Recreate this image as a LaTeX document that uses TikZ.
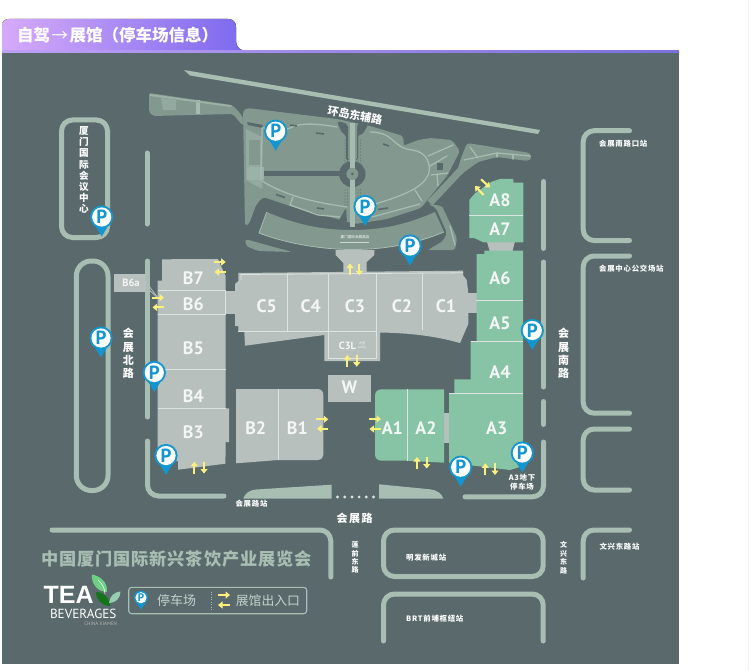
\documentclass[tikz,border=0pt]{standalone}
\usepackage{fontspec}
\usetikzlibrary{arrows.meta}
\setmainfont{Noto Sans CJK SC}
\newfontfamily\lat{PT Sans}
\newfontfamily\logofont{Liberation Sans}
\definecolor{bgc}{HTML}{5A6A6C}
\definecolor{roadc}{HTML}{A8BEB3}
\definecolor{parkc}{HTML}{83998F}
\definecolor{parkl}{HTML}{93AAA0}
\definecolor{pathc}{HTML}{A6BCB1}
\definecolor{grayb}{HTML}{B8C0BE}
\definecolor{greenb}{HTML}{87C4A6}
\definecolor{liner}{HTML}{DDE3E0}
\definecolor{pinb}{HTML}{1296CF}
\definecolor{yarr}{HTML}{FBF07E}
\definecolor{txtw}{HTML}{F4F6F5}
\definecolor{tabl}{HTML}{D6AAFA}
\definecolor{tabr}{HTML}{7A68EE}
\definecolor{lnl}{HTML}{BEA0F5}
\definecolor{lnr}{HTML}{7A70DC}
\tikzset{
  road/.style={draw=roadc,line width=5pt,line cap=round,rounded corners=11pt},
  divider/.style={draw=liner,line width=0.8pt},
  hlabel/.style={text=txtw,font=\lat\bfseries\fontsize{18}{18}\selectfont,inner sep=0pt},
  rlabel/.style={text=white,font=\bfseries\fontsize{11}{13.3}\selectfont,inner sep=0pt,align=center},
  slabel/.style={text=white,font=\bfseries\fontsize{7.4}{9}\selectfont\addfontfeature{LetterSpace=10},inner sep=0pt,align=center},
  yarrow/.style={draw=yarr,line width=2.1pt,-{Triangle[width=7pt,length=4.5pt]}},
  pale/.style={draw=pathc,line width=1.3pt,line cap=round},
  dash mark/.style={draw=bgc,line width=1.6pt},
  pintext/.style={text=pinb,font=\lat\bfseries,inner sep=0pt},
}
\newcommand{\pinmark}[3]{%
  \fill[pinb] (#2-9,#3-15) -- (#2,#3) -- (#2+9,#3-15) -- cycle;
  \fill[pinb] (#2,#3-19.5) circle (11.6);
  \fill[white] (#2,#3-19.5) circle (9.6);
  \node[pintext,font=\lat\bfseries\fontsize{19}{19}\selectfont] (#1) at (#2,#3-19.5) {P};
}
\begin{document}
\begin{tikzpicture}[x=1pt,y=-1pt]
\useasboundingbox (0,0) rectangle (749,671);
\fill[white] (0,0) rectangle (749,671);
\fill[black!6] (747.5,0) rectangle (749,671);
% map background
\fill[bgc] (2,52) rectangle (679,664);
% title tab
\fill[left color=tabl,right color=tabr]
  (2,51.5) -- (2,26) .. controls (2,21) and (5,19) .. (9,19) -- (228,19) .. controls (233,19) and (236,22) .. (236,27)
  -- (236,41) .. controls (236,47) and (240,51) .. (248,51.5) -- cycle;
\fill[left color=lnl,right color=lnr] (2,50.8) rectangle (679,52.2);
\node[text=white,font=\bfseries\fontsize{16.5}{18}\selectfont,inner sep=0pt,anchor=west] (title) at (17,35) {自驾{\mdseries\hspace{1.5pt}→\hspace{1.5pt}}展馆（停车场信息）};

% top road
\fill[roadc] (184,70) -- (540,130) -- (538,134) -- (190,75.5) -- cycle;
% NW strip
\fill[parkc,rounded corners=2pt] (149,93) -- (232,105) -- (240,113) -- (247,125) -- (242,125) -- (233,114) -- (153,116) -- (149,112) -- cycle;
\fill[parkl] (161,98) -- (176,100) -- (176,110) -- (163,110) -- cycle;
\draw[pathc,line width=4pt] (197.5,100) -- (197.5,114);
\fill[pathc!70!parkc] (150,94) -- (232,105.5) -- (231,107) -- (150,96) -- cycle;
% Park main
\fill[parkc,rounded corners=3pt] (243,111) -- (247,108) -- (337,119) -- (370,126) -- (403,136) -- (404,144)-- (403,146) -- (418,140) -- (430,138) -- (452,140) -- (460,151) -- (447,176) -- (421,208) -- (387,219) -- (355,224) -- (337,219) -- (290,206) -- (263,197) -- (256,205) -- (249,224) -- (245,226) -- cycle;
\fill[bgc] (247,122) -- (263,125) -- (262,128) -- (248,125) -- cycle;
% lower-left lawn piece
\fill[parkc,rounded corners=3pt] (245,239) -- (292,252) -- (258,251) -- (246,246) -- cycle;
% right wing
\fill[parkc,rounded corners=2pt] (428,204) -- (442,206) -- (457,238) -- (455,250) -- (428,250) -- (443,241) -- (447,233) -- (436,208) -- cycle;
\draw[pale] (450,226) -- (455,245);
% diagonal strip
\draw[parkc,line width=7pt] (461,170) -- (430,203);
% NE strip
\fill[parkc,rounded corners=3pt] (467,143) -- (530,153) -- (532,158) -- (528,161) -- (497,157) -- (478,162) -- (459,176) -- (457,172) -- (461,158) -- cycle;
\draw[pale] (470,147) -- (478,158);\draw[pale] (464,160) -- (497,153) -- (530,156);\draw[pale] (497,153) -- (497,157);\draw[pale] (513,155) -- (513,159);
% left pale plaza
\fill[parkl] (246,129) -- (262,137) -- (262,189) -- (246,180) -- cycle;
\fill[parkc] (249,140) rectangle (260,165);
\fill[pathc!70!parkc] (247,167) rectangle (264,180);
% lawn paths
\draw[pale] (262,128) .. controls (262,150) and (261,170) .. (261,180);
\draw[pale] (262,128) .. controls (270,128) and (280,132) .. (290,128) .. controls (300,122) and (320,124) .. (337,127);
\draw[pale] (262,181) .. controls (290,198) and (320,203) .. (347,207);
\draw[pale] (293,197) -- (290,205) -- (318,215) -- (340,217);
\draw[pale] (370,132) .. controls (395,132) and (392,148) .. (412,150) .. controls (430,152) and (432,170) .. (427,177) .. controls (420,190) and (395,198) .. (375,204);
\draw[pale] (428,156) -- (453,145);\draw[pale] (430,166) -- (447,156);
\draw[pale] (431,175) -- (448,173);\draw[pale] (437,174) -- (438,186);
\draw[pale] (415,190) -- (422,201);
\draw[pale] (372,217) -- (420,204);
\fill[bgc] (437,163) rectangle (443,170);
% dark avenue, roundabout
\fill[bgc] (264,171.5) rectangle (342,176.5);
\fill[bgc] (352.3,174) circle (13.2);
% dark bands beside centre strip top
\fill[bgc,rounded corners=2pt] (337,122) -- (343,122) -- (348,125) -- (348,160) -- (357,160) -- (357,125) -- (362,121) -- (368,125) -- (362,135) -- (358,135) -- (358,160) -- (346,160) -- (346,135) -- (342,133) -- cycle;
\fill[parkc] (349,158) rectangle (356,162);
\fill[bgc,rounded corners=1pt] (338,222) -- (346,208) -- (347,222) -- cycle;
% tree dots
\foreach \yy in {140,143,...,164,190,193,...,207}{
  \fill[bgc!80!parkc] (345,\yy) circle (0.55);\fill[bgc!80!parkc] (347.5,\yy) circle (0.55);
  \fill[bgc!80!parkc] (358,\yy) circle (0.55);\fill[bgc!80!parkc] (360.5,\yy) circle (0.55);
}
% centre strip
\fill[pathc] (350,123) rectangle (355,227);
\fill[parkc] (352.3,174) circle (6);
\fill[bgc] (352.3,174) circle (1.5);
% small dark dashes
\draw[dash mark] (316,133) -- (324,134);\draw[dash mark] (383,144) -- (389,146);
\draw[dash mark] (276,194.5) -- (285,197.5);\draw[dash mark] (317,208) -- (324,209);
\draw[dash mark] (378,209.5) -- (388,208);\draw[dash mark] (290,125) -- (297,126);
% crescent
\fill[parkc] (266.7,212) .. controls (295,224) and (320,230) .. (352,230) .. controls (385,230) and (410,223) .. (435,212) -- (444,232) .. controls (415,244) and (385,249.5) .. (353,249.5) .. controls (320,249.5) and (285,243) .. (259,233) -- cycle;
\draw[pathc,line width=0.8pt] (444,232) .. controls (415,244) and (385,249.5) .. (353,249.5) .. controls (320,249.5) and (285,243) .. (259,233) -- (266.7,212);
\node[text=white,font=\fontsize{3.6}{4}\selectfont,inner sep=0pt] (hotel) at (355,237) {厦门国际会展酒店};
\fill[white!60!parkc] (340,241.5) rectangle (369,242.3);

% roads left
\draw[road] (61.5,120) rectangle (107.5,237.5);
\draw[road] (147,153) -- (147,224);
\draw[road,rounded corners=15pt] (76.3,261) rectangle (108,490.5);
\draw[road] (147.5,261) -- (147.5,417);
\draw[road] (147.5,441) -- (147.5,496) -- (224,496);
% plazas
\fill[roadc] (243.3,498.5) .. controls (245,493) and (250,490) .. (256,489.5) -- (331.7,484.7) -- (331.7,498.5) -- cycle;
\fill[roadc] (379,484.3) -- (430,489.3) .. controls (437,490) and (442,494) .. (443.5,498.7) -- (379,498.7) -- cycle;
\foreach \xx in {337.5,344.7,351.9,359.1,366.3,373.5}{\fill[liner] (\xx,497) circle (1.6);}
% roads right
\draw[road] (465,496.8) -- (543.5,496.8) -- (543.5,442);
\draw[road] (543.5,262) -- (543.5,387);
\draw[road] (543.5,401.5) -- (543.5,424.5);
\draw[road] (543.5,181.5) -- (543.5,248.5);
\draw[road] (629.5,130.7) -- (583.2,130.7) -- (583.2,240.5) -- (629.5,240.5);
\draw[road] (629.5,256) -- (583.2,256) -- (583.2,413.2) -- (629.5,413.2);
\draw[road] (629.5,429) -- (583.2,429) -- (583.2,490) -- (629.5,490);
% bottom roads
\draw[road] (52,530) -- (330.8,530) -- (330.8,577);
\draw[road] (383.5,530) rectangle (543.2,576.5);
\draw[road] (383.5,641) -- (383.5,594) -- (543.2,594) -- (543.2,641);
\draw[road] (629.5,530) -- (583.2,530) -- (583.2,578);

% grey connectors
\fill[grayb] (225,290.5) rectangle (237,314.3);
\fill[grayb] (465,293) rectangle (477,313);
\fill[grayb] (443.3,413.3) rectangle (449.5,443.3);
\fill[grayb] (486.7,241) -- (515,241) -- (512.3,252) -- (490,252) -- cycle;
% lobby
\fill[grayb] (335.7,250) -- (374.3,250) -- (374.3,255) -- (366.7,262) -- (366.7,274) -- (343.3,274) -- (343.3,263) -- (335.7,255) -- cycle;
% C block
\fill[grayb] (238.3,273) -- (463,270.7) -- (463,275) -- (466.7,280) -- (468.3,293) -- (468.3,324) -- (460,343) .. controls (435,336) and (410,333) .. (380,332.5) -- (380,361) -- (324.3,361) -- (324.3,335) -- (245,345.7) -- (244.3,331.7) -- (238.3,331.7) -- (238.3,326) -- (235,326) -- (235,284) -- (238.3,281) -- cycle;
\draw[divider] (241,280) -- (241,274.5) -- (463,272.8);
\draw[divider] (287.7,274) -- (287.7,331.7);
\draw[divider] (328.3,274) -- (328.3,358) -- (376,358) -- (376,274);
\draw[divider] (422.3,273) -- (422.3,330);
\draw[divider] (238,331.7) -- (328.3,331.7);
\draw[divider] (328.3,331.7) -- (376,331.7);
% B column
\fill[grayb] (157.7,314) -- (157.7,280.7) -- (162,280.7) -- (162,259.3) -- (218,259) -- (220,264) -- (225.7,276) -- (225.7,408.3) -- (229,408.3) -- (229,442) -- (225.7,442) -- (225.4,463.7) -- (178,469.7) -- (178,461) -- (157.7,461) -- cycle;
\foreach \yy in {290.7,314.3,369.3,408.3}{\draw[divider] (157.7,\yy) -- (226,\yy);}
\draw[divider] (225.7,290.7) -- (225.7,314.3);
% B6a
\fill[grayb] (114,274) rectangle (146,292);
\draw[grayb,line width=0.8pt] (146,282) -- (161.7,303);
\draw[grayb,line width=0.8pt] (146,287) -- (156.7,297);
% W
\fill[grayb] (328.3,375) rectangle (370.7,401.7);
% B2 B1
\fill[grayb] (236,389) -- (317,389) .. controls (321,389) and (323.3,391) .. (323.3,395) -- (323.3,455) .. controls (323.3,458) and (321,460) .. (317,460) -- (278.3,460) -- (236,463.3) -- cycle;
\draw[divider] (278.3,389) -- (278.3,460);
% A1 A2
\fill[greenb] (382,389.3) -- (444,389.3) -- (444,462.7) -- (407.7,460.7) -- (382,460.7) .. controls (377,460.7) and (375,458) .. (375,454) -- (375,396) .. controls (375,392) and (377,389.3) .. (382,389.3) -- cycle;
\draw[divider] (407.7,389.3) -- (407.7,460.7);
% A3 A4 A5 A6
\fill[greenb] (449,393.3) -- (454.3,393.3) -- (454.3,379.3) -- (470.7,379.3) -- (470.7,341) -- (476.5,341) -- (476.5,254) -- (484.3,254) -- (484.3,250.7) -- (523,250.7) -- (523,466) -- (510,470) -- (449,462.7) -- cycle;
\draw[divider] (449,393.3) -- (523,393.3);
\draw[divider] (470.7,341) -- (523,341);
\draw[divider] (476,300.7) -- (523,300.7);
% A7 A8
\fill[greenb] (469.3,200) -- (475,193.3) -- (491.7,181.7) -- (500,179) -- (513.3,179) -- (513.3,182.7) -- (523.3,182.7) -- (523.3,242.3) -- (483.3,242.3) -- (474,238) -- (469.3,238) -- cycle;
\draw[divider] (469.3,215.7) -- (523.3,215.7);

% hall labels
\node[hlabel] (B7) at (193.3,278.3) {B7};
\node[hlabel] (B6) at (193.3,304.3) {B6};
\node[hlabel] (B5) at (193.3,348.3) {B5};
\node[hlabel] (B4) at (193.3,396) {B4};
\node[hlabel] (B3) at (193.3,432.3) {B3};
\node[hlabel] (C5) at (266.7,306) {C5};
\node[hlabel] (C4) at (310.7,306) {C4};
\node[hlabel] (C3) at (355,306) {C3};
\node[hlabel] (C2) at (402,306) {C2};
\node[hlabel] (C1) at (446,306) {C1};
\node[hlabel] (B2) at (255.7,428.3) {B2};
\node[hlabel] (B1) at (297.3,428.3) {B1};
\node[hlabel] (W) at (349.3,387.3) {W};
\node[hlabel] (A1) at (392.3,428.3) {A1};
\node[hlabel] (A2) at (426,428.3) {A2};
\node[hlabel] (A3) at (496.7,428.7) {A3};
\node[hlabel] (A4) at (500,372) {A4};
\node[hlabel] (A5) at (500,323.3) {A5};
\node[hlabel] (A6) at (500,278.3) {A6};
\node[hlabel] (A7) at (500,229) {A7};
\node[hlabel] (A8) at (500,200) {A8};
\node[hlabel,font=\lat\bfseries\fontsize{10.5}{11}\selectfont] (B6a) at (131,282.7) {B6a};
\node[hlabel,font=\lat\bfseries\fontsize{10.5}{11}\selectfont] (C3L) at (347.5,345.7) {C3L};
\node[text=txtw,inner sep=0pt,align=center,font=\fontsize{3.2}{4.6}\selectfont] (lobbytxt) at (362,345.3) {大堂\\\lat Lobby};

% yellow arrows
\draw[yarrow] (214,262) -- (225.7,262);
\draw[yarrow] (225.7,272) -- (214.5,272);
\draw[yarrow] (151.7,297.7) -- (164,297.7);
\draw[yarrow] (164.3,307.3) -- (152.5,307.3);
\draw[yarrow] (350,275.3) -- (350,263.5);
\draw[yarrow] (359.3,263.5) -- (359.3,275.3);
\draw[yarrow] (347.3,366.7) -- (347.3,355);
\draw[yarrow] (356.7,355) -- (356.7,366.7);
\draw[yarrow] (316,419.3) -- (328.3,419.3);
\draw[yarrow] (328.3,428.7) -- (317,428.7);
\draw[yarrow] (194.3,473.5) -- (194.3,461.7);
\draw[yarrow] (204,461.7) -- (204,473.5);
\draw[yarrow] (369,419) -- (381,419);
\draw[yarrow] (381,429) -- (369.5,429);
\draw[yarrow] (417,468.5) -- (417,457);
\draw[yarrow] (426.7,457) -- (426.7,468.5);
\draw[yarrow] (485.3,475) -- (485.3,463.3);
\draw[yarrow] (495,463.3) -- (495,475);
\draw[yarrow] (481,179.3) -- (490,187.5);
\draw[yarrow] (483.5,195) -- (475,186);

% road and station labels
\node[rlabel,rotate=-10] (ring) at (355,115) {环岛东辅路};
\node[rlabel,font=\bfseries\fontsize{9.6}{11.2}\selectfont] (conf) at (84,170) {厦\\门\\国\\际\\会\\议\\中\\心};
\node[rlabel] (north) at (128.3,353.5) {会\\展\\北\\路};
\node[rlabel] (south) at (563.7,353.5) {会\\展\\南\\路};
\node[rlabel,font=\bfseries\fontsize{11}{13}\selectfont,inner xsep=0pt] (hz) at (354.7,518.3) {会\hspace{1.5pt}展\hspace{1.5pt}路};
\node[slabel] (hzst) at (251.5,504) {会展路站};
\node[slabel,font=\bfseries\fontsize{7}{8.4}\selectfont] (lq) at (355,557.7) {莲\\前\\东\\路};
\node[slabel,font=\bfseries\fontsize{7}{8.4}\selectfont] (wx) at (563.7,557.7) {文\\兴\\东\\路};
\node[slabel,anchor=west] (mf) at (406,557.7) {明发新城站};
\node[slabel,anchor=west] (brt) at (406,618.3) {BRT前埔枢纽站};
\node[slabel,anchor=west] (wxst) at (599.3,547) {文兴东路站};
\node[slabel,anchor=west] (hznk) at (599,143.3) {会展南路口站};
\node[slabel,anchor=west] (hzgj) at (599,269) {会展中心公交场站};
\node[slabel] (a3p) at (522,482.3) {A3地下\\停车场};

% pins
\pinmark{p1}{275.7}{150.7}
\pinmark{p2}{101.7}{236.5}
\pinmark{p3}{365}{226}
\pinmark{p4}{410}{265.5}
\pinmark{p5}{101}{357.5}
\pinmark{p6}{154.3}{392}
\pinmark{p7}{166}{475}
\pinmark{p8}{532.3}{350}
\pinmark{p9}{522.3}{472.5}
\pinmark{p10}{460.7}{486.7}

% event title
\node[text=roadc,font=\bfseries\fontsize{17.2}{18}\selectfont\addfontfeature{LetterSpace=5},inner sep=0pt] (event) at (176.5,559) {中国厦门国际新兴茶饮产业展览会};
% logo
\node[text=white,font=\logofont\bfseries\fontsize{25}{25}\selectfont,inner sep=0pt,anchor=west] (tea) at (43.5,595) {TEA};
\node[text=white,font=\lat\fontsize{13.2}{13}\selectfont,inner sep=0pt,anchor=west] (bev) at (49.8,613.8) {BEVERAGES};
\node[text=black!30,font=\lat\fontsize{5}{6}\selectfont,inner sep=0pt,anchor=east] (cx) at (117.3,624) {CHINA XIAMEN};
\fill[greenb!80!green] (92,574.5) .. controls (100,576) and (108,582) .. (107,592) .. controls (98,592) and (91,584) .. (92,574.5) -- cycle;
\fill[green!40!black!85!greenb] (96,592) .. controls (104,592) and (110,598) .. (110,606) .. controls (102,606) and (96,600) .. (96,592) -- cycle;
\fill[greenb!85!white] (109,603) .. controls (110,596) and (114,592) .. (120.5,591.5) .. controls (120.5,598) and (116,603) .. (109,603) -- cycle;
\draw[white,line width=0.6pt] (98,580) .. controls (103,584) and (105,590) .. (105,594);
% legend
\draw[draw=roadc,line width=1.1pt,rounded corners=3pt,fill=none] (128.7,587.3) rectangle (306.7,613.7);
\fill[pinb] (136,602) -- (141,609.5) -- (146,602) -- cycle;
\fill[pinb] (141,597.7) circle (7);
\fill[white] (141,597.7) circle (5.6);
\node[pintext,font=\lat\bfseries\fontsize{11}{11}\selectfont] (legP) at (141,597.7) {P};
\node[text=roadc!70!white,font=\fontsize{13}{14}\selectfont,inner sep=0pt,anchor=west] (legA) at (157,600.5) {停车场};
\draw[roadc,line width=0.5pt,dotted] (211.7,591.5) -- (211.7,610);
\draw[yarrow,line width=1.7pt] (218,595) -- (230,595);
\draw[yarrow,line width=1.7pt] (230,605) -- (218,605);
\node[text=roadc!70!white,font=\fontsize{12.8}{14}\selectfont,inner sep=0pt,anchor=west] (legB) at (235.7,600.5) {展馆出入口};
\end{tikzpicture}
\end{document}
